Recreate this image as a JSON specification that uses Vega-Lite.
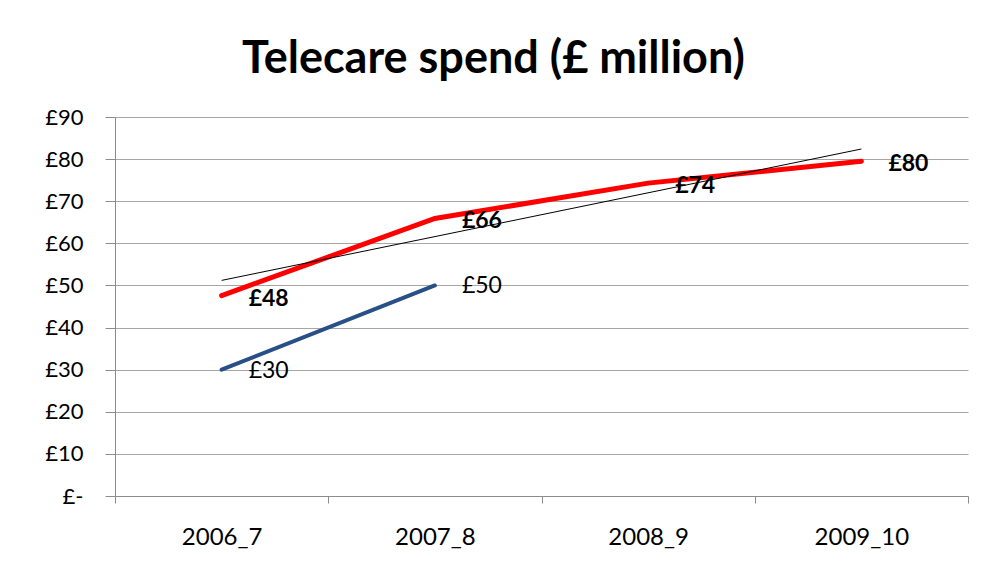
{
  "$schema": "https://vega.github.io/schema/vega-lite/v6.json",
  "autosize": "none",
  "width": 853,
  "height": 379,
  "padding": {"left": 115, "top": 117, "right": 29, "bottom": 84},
  "background": "white",
  "title": {"text": "Telecare spend (£ million)", "font": "Lato", "fontSize": 45, "fontWeight": "bold", "color": "#000000", "anchor": "middle", "dx": -48, "offset": 24},
  "data": {"values": [
    {"year": "2006_7", "series": "Telecare", "value": 47.6, "label": "£48"},
    {"year": "2007_8", "series": "Telecare", "value": 65.9, "label": "£66"},
    {"year": "2008_9", "series": "Telecare", "value": 74.3, "label": "£74"},
    {"year": "2009_10", "series": "Telecare", "value": 79.5, "label": "£80"},
    {"year": "2006_7", "series": "Other", "value": 30, "label": "£30"},
    {"year": "2007_8", "series": "Other", "value": 50, "label": "£50"},
    {"year": "2006_7", "series": "Trend", "value": 51.2, "label": ""},
    {"year": "2009_10", "series": "Trend", "value": 82.4, "label": ""}
  ]},
  "encoding": {
    "x": {"field": "year", "type": "ordinal", "sort": ["2006_7", "2007_8", "2008_9", "2009_10"],
      "scale": {"type": "band", "paddingInner": 0, "paddingOuter": 0, "domain": ["2006_7", "2007_8", "2008_9", "2009_10"]},
      "bandPosition": 0.5,
      "axis": {"title": null, "grid": false, "labelAngle": 0, "tickBand": "extent", "tickSize": 7, "tickColor": "#8c8c8c", "domainColor": "#8c8c8c", "labelFont": "Lato", "labelFontSize": 24, "labelColor": "#000000", "labelPadding": 22}},
    "y": {"field": "value", "type": "quantitative",
      "scale": {"domain": [0, 90], "nice": false, "zero": true},
      "axis": {"title": null, "values": [0, 10, 20, 30, 40, 50, 60, 70, 80, 90], "grid": true, "gridColor": "#a6a6a6", "domainColor": "#8c8c8c", "tickColor": "#8c8c8c", "tickSize": 10, "labelFont": "Lato", "labelFontSize": 22, "labelColor": "#000000", "labelPadding": 22,
        "labelExpr": "datum.value == 0 ? '£-' : '£' + datum.value"}}
  },
  "layer": [
    {"transform": [{"filter": "datum.series == 'Telecare'"}], "mark": {"type": "line", "color": "#ff0000", "strokeWidth": 5, "strokeCap": "round"}},
    {"transform": [{"filter": "datum.series == 'Other'"}], "mark": {"type": "line", "color": "#285087", "strokeWidth": 4, "strokeCap": "round"}},
    {"transform": [{"filter": "datum.series == 'Trend'"}], "mark": {"type": "line", "color": "#000000", "strokeWidth": 1}},
    {"transform": [{"filter": "datum.series == 'Telecare'"}], "mark": {"type": "text", "align": "left", "baseline": "middle", "dx": 27, "dy": 3, "font": "Lato", "fontSize": 23, "fontWeight": "bold", "color": "#000000"}, "encoding": {"text": {"field": "label"}}},
    {"transform": [{"filter": "datum.series == 'Other'"}], "mark": {"type": "text", "align": "left", "baseline": "middle", "dx": 27, "dy": 1, "font": "Lato", "fontSize": 23, "color": "#000000"}, "encoding": {"text": {"field": "label"}}}
  ],
  "config": {"view": {"stroke": null}}
}
